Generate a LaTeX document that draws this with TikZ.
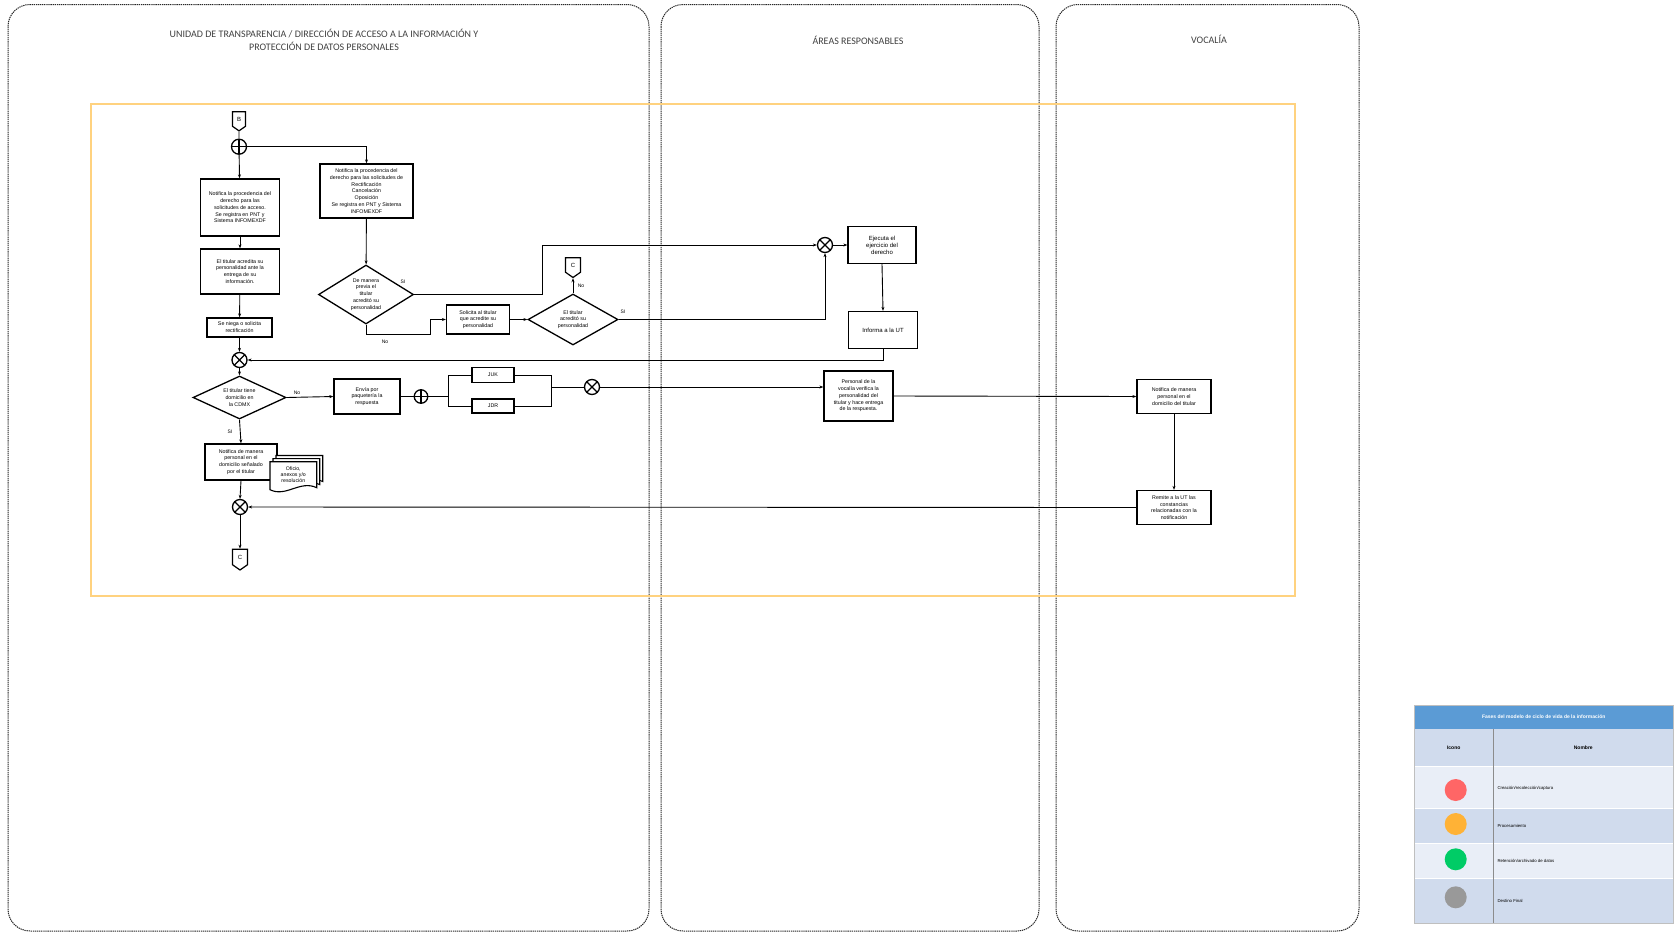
\documentclass[tikz,border=0pt]{standalone}
\usepackage{fontspec}
\setmainfont{Liberation Sans}
\newfontfamily\hdrfont{Carlito}
\usetikzlibrary{shapes.geometric,shapes.symbols,arrows.meta,calc}
\definecolor{orangebox}{HTML}{FFD27F}
\definecolor{hdrgray}{HTML}{404040}
\definecolor{legblue}{HTML}{5B9BD5}
\definecolor{legrowA}{HTML}{D0DBED}
\definecolor{legrowB}{HTML}{E9EEF7}
\definecolor{legred}{HTML}{FF6666}
\definecolor{legorange}{HTML}{FFB236}
\definecolor{leggreen}{HTML}{00CC66}
\definecolor{leggray}{HTML}{999999}
\newcommand{\mydoc}[2]{\begin{scope}[shift={(#1,#2)}]\draw[line width=1.1pt, fill=white] (0,0) -- (46.7,0) -- (46.7,26) .. controls (30,18) and (16,36) .. (0,28) -- cycle;\end{scope}}
\begin{document}
\begin{tikzpicture}[x=1pt,y=-1pt,
  lane/.style={draw=black!85, line width=1pt, dash pattern=on 1.3pt off 0.8pt, rounded corners=22pt},
  hdr/.style={font=\hdrfont\fontsize{10}{13}\selectfont, text=hdrgray, align=center, inner sep=0pt},
  proc/.style={draw, line width=1.3pt, fill=white, align=center, inner sep=0.5pt, font=\fontsize{5.3}{6.8}\selectfont},
  dec/.style={diamond, aspect=1.6, draw, line width=1.3pt, fill=white, align=center, inner sep=0pt, font=\fontsize{5.3}{6.8}\selectfont},
  gw/.style={circle, draw, line width=1.3pt, fill=white, minimum size=15pt, inner sep=0pt},
  gwplus/.style={gw, path picture={\draw[line width=1.2pt] (path picture bounding box.north) -- (path picture bounding box.south) (path picture bounding box.west) -- (path picture bounding box.east);}},
  gwx/.style={gw, path picture={\draw[line width=1.2pt] (path picture bounding box.north west) -- (path picture bounding box.south east) (path picture bounding box.north east) -- (path picture bounding box.south west);}},
  offpage/.style={signal, signal to=south, signal from=nowhere, signal pointer angle=110, draw, line width=1.2pt, fill=white, minimum width=13pt, minimum height=16pt, inner sep=0pt, font=\fontsize{6}{6}\selectfont},
  arr/.style={line width=0.9pt, -{Stealth[length=4pt,width=3pt]}},
  ln/.style={line width=0.9pt},
  lbl/.style={font=\fontsize{5}{5}\selectfont, inner sep=0.5pt},
  legtxt/.style={font=\fontsize{4.3}{5}\selectfont, anchor=west, inner sep=0pt},
]
\useasboundingbox (0,0) rectangle (1679,932);
% lanes
\draw[lane] (8,4.5) rectangle (649,931);
\draw[lane] (661,4.5) rectangle (1039,931);
\draw[lane] (1056,4.5) rectangle (1359,931);
\node[hdr] (h1) at (324,39.5) {UNIDAD DE TRANSPARENCIA / DIRECCIÓN DE ACCESO A LA INFORMACIÓN Y\\PROTECCIÓN DE DATOS PERSONALES};
\node[hdr] (h2) at (858,40) {ÁREAS RESPONSABLES};
\node[hdr] (h3) at (1209,39) {VOCALÍA};
% orange frame
\draw[orangebox, line width=2pt] (91,104) rectangle (1295,596);

% nodes
\node[offpage] (B) at (239,119) {B};
\node[gwplus] (gOR1) at (239,146.7) {};
\node[proc, minimum width=79pt, minimum height=57pt] (box1) at (240,207.5) {Notifica la procedencia del\\derecho para las\\solicitudes de acceso.\\Se registra en PNT y\\Sistema INFOMEXDF};
\node[proc, minimum width=79pt, minimum height=45pt] (box2) at (240,271.5) {El titular acredita su\\personalidad ante la\\entrega de su\\información.};
\node[proc, minimum width=65pt, minimum height=19pt] (box3) at (239.5,327.5) {Se niega o solicita\\rectificación};
\node[proc, minimum width=93pt, minimum height=54pt] (box4) at (366.5,191) {Notifica la procedencia del\\derecho para las solicitudes de\\Rectificación\\Cancelación\\Oposición\\Se registra en PNT y Sistema\\INFOMEXDF};
\node[dec, minimum width=95pt, minimum height=59pt] (D1) at (366,294.5) {De manera\\previa el\\titular\\acreditó su\\personalidad};
\node[proc, minimum width=63pt, minimum height=29pt] (sol) at (478,319.5) {Solicita al titular\\que acredite su\\personalidad};
\node[dec, minimum width=90pt, minimum height=51pt] (D2) at (573,319.5) {El titular\\acreditó su\\personalidad};
\node[offpage, minimum width=15pt] (C1) at (573,265) {C};
\node[gwx] (gX2) at (825,245) {};
\node[proc, minimum width=68pt, minimum height=37pt, font=\fontsize{6}{7}\selectfont] (ej) at (882,245) {Ejecuta el\\ejercicio del\\derecho};
\node[proc, minimum width=69pt, minimum height=37pt, font=\fontsize{6}{7}\selectfont] (inf) at (883,330) {Informa a la UT};
\node[gwx] (gX1) at (239.5,360) {};
\node[dec, minimum width=93pt, minimum height=43pt] (D3) at (239.5,397.5) {El titular tiene\\domicilio en\\la CDMX};
\node[proc, minimum width=66pt, minimum height=35pt] (env) at (367,396.5) {Envía por\\paquetería la\\respuesta};
\node[gwplus, minimum size=13.5pt] (gOR2) at (421,396.5) {};
\node[proc, minimum width=42pt, minimum height=15pt] (juk) at (493,375) {JUK};
\node[proc, minimum width=42pt, minimum height=14pt] (jdr) at (493,406) {JDR};
\node[gwx] (gX3) at (592,387) {};
\node[proc, minimum width=69pt, minimum height=50pt] (pers) at (858.5,396) {Personal de la\\vocalía verifica la\\personalidad del\\titular y hace entrega\\de la respuesta.};
\node[proc, minimum width=74pt, minimum height=34pt] (V1) at (1174,396.5) {Notifica de manera\\personal en el\\domicilio del titular};
\node[proc, minimum width=74pt, minimum height=34pt] (V2) at (1174,507.5) {Remite a la UT las\\constancias\\relacionadas con la\\notificación};
\node[proc, minimum width=72pt, minimum height=36pt] (N1) at (241,462) {Notifica de manera\\personal en el\\domicilio señalado\\por el titular};
\mydoc{276}{455.5}
\mydoc{273}{458.6}
\mydoc{270}{461.7}
\node[font=\fontsize{5.2}{6.3}\selectfont, align=center, inner sep=0pt] (doc) at (293.3,474.5) {Oficio,\\anexos y/o\\resolución};
\node[gwx] (gX4) at (240,507) {};
\node[offpage, minimum width=15pt, minimum height=17pt] (C2) at (240,557) {C};

% coordinates
\coordinate (br1) at (448,396.5);
\coordinate (mg) at (551,387);

% connectors
\draw[ln] (B) -- (gOR1);
\draw[arr] (gOR1) -- (box1);
\draw[arr] (gOR1.east) -| (box4.north);
\draw[arr] (box1) -- (box2);
\draw[arr] (box2) -- (box3);
\draw[arr] (box3) -- (gX1);
\draw[arr] (box4) -- (D1);
\draw[arr] (D1.east) -- (542,294.5) |- (gX2.west);
\draw[arr] (D1.south) -- (366,334) -| (430,319.5) -- (sol.west);
\draw[arr] (sol) -- (D2);
\draw[arr] (D2.north) -- (C1.south);
\draw[arr] (D2.east) -| (gX2.south);
\draw[arr] (gX2) -- (ej);
\draw[arr] (ej.south) -- (inf.north);
\draw[arr] (inf.south) |- (gX1.east);
\draw[arr] (gX1) -- (D3);
\draw[arr] (D3.east) -- (env.west);
\draw[ln] (env) -- (gOR2);
\draw[ln] (gOR2.east) -- (br1);
\draw[ln] (br1) |- (juk.west);
\draw[ln] (br1) |- (jdr.west);
\draw[ln] (juk.east) -| (mg);
\draw[ln] (jdr.east) -| (mg);
\draw[ln] (mg) -- (gX3.west);
\draw[arr] (gX3.east) -- (gX3.east -| pers.west);
\draw[arr] (pers.east) -- (V1.west);
\draw[arr] (V1) -- (V2);
\draw[arr] (V2.west) -- (gX4.east);
\draw[arr] (D3.south) -- (N1.north);
\draw[arr] (N1.south) -- (gX4.north);
\draw[arr] (gX4) -- (C2);

% labels
\node[lbl] (l1) at (403,282) {SI};
\node[lbl] (l2) at (385,341.7) {No};
\node[lbl] (l3) at (581,286) {No};
\node[lbl] (l4) at (623,312) {SI};
\node[lbl] (l5) at (297,392.3) {No};
\node[lbl] (l6) at (230,431.7) {SI};

% legend
\fill[legblue] (1414,705) rectangle (1673.3,729.3);
\fill[legrowA] (1414,729.3) rectangle (1673.3,766.7);
\fill[legrowB] (1414,766.7) rectangle (1673.3,808.3);
\fill[legrowA] (1414,808.3) rectangle (1673.3,843.3);
\fill[legrowB] (1414,843.3) rectangle (1673.3,878.3);
\fill[legrowA] (1414,878.3) rectangle (1673.3,923.3);
\draw[white, line width=0.6pt] (1414,766.7) -- (1673.3,766.7) (1414,808.3) -- (1673.3,808.3) (1414,843.3) -- (1673.3,843.3) (1414,878.3) -- (1673.3,878.3);
\draw[black!45, line width=1.5pt] (1493.3,729.3) -- (1493.3,923.3);
\draw[black!25, line width=1pt] (1414,705) rectangle (1673.3,923.3);
\node[font=\bfseries\fontsize{5}{6}\selectfont, text=white] (lt) at (1543.7,717) {Fases del modelo de ciclo de vida de la información};
\node[font=\bfseries\fontsize{5}{6}\selectfont] (li) at (1453.7,748) {Icono};
\node[font=\bfseries\fontsize{5}{6}\selectfont] (lnm) at (1583.3,748) {Nombre};
\node[circle, fill=legred, minimum size=22pt, inner sep=0pt] (c1) at (1455.7,790) {};
\node[circle, fill=legorange, minimum size=22pt, inner sep=0pt] (c2) at (1455.7,824) {};
\node[circle, fill=leggreen, minimum size=22pt, inner sep=0pt] (c3) at (1455.7,859.3) {};
\node[circle, fill=leggray, minimum size=22pt, inner sep=0pt] (c4) at (1455.7,897.3) {};
\node[legtxt] (t1) at (1497.3,788) {Creación/recolección/captura};
\node[legtxt] (t2) at (1497.3,826) {Procesamiento};
\node[legtxt] (t3) at (1497.3,861) {Retención/archivado de datos};
\node[legtxt] (t4) at (1497.3,901) {Destino Final};
\end{tikzpicture}
\end{document}
